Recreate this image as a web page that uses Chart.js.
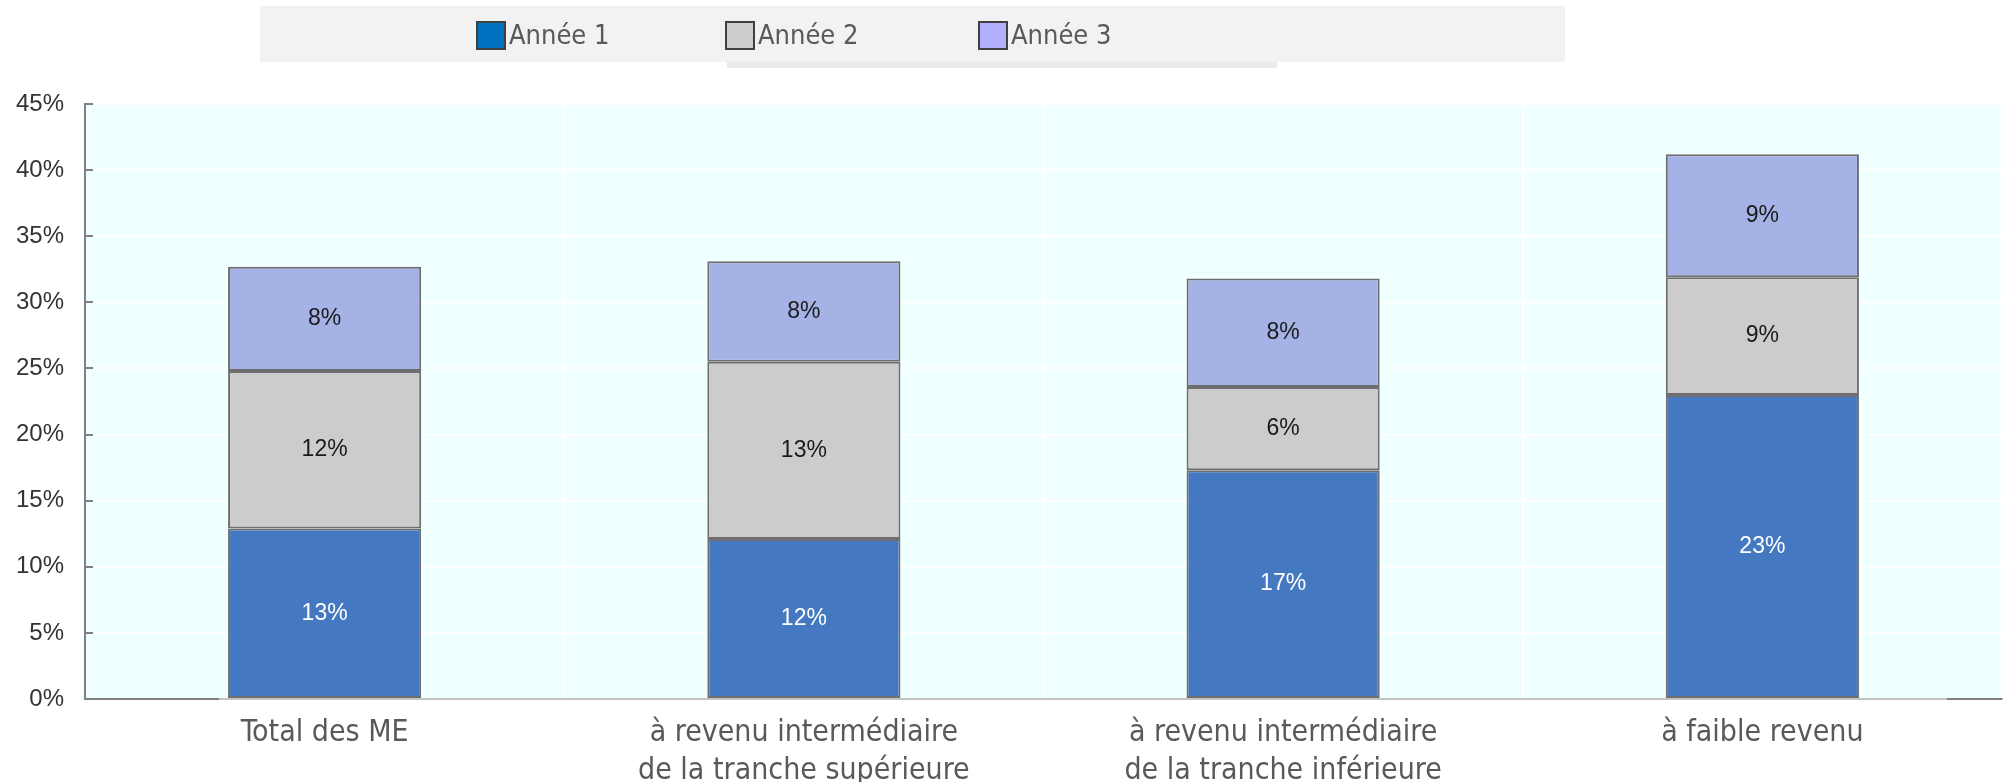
<!DOCTYPE html>
<html>
<head>
<meta charset="utf-8">
<script src="https://cdn.jsdelivr.net/npm/chart.js@4.4.1/dist/chart.umd.min.js"></script>
<style>
html,body{margin:0;padding:0;background:#fff;}
#wrap{position:relative;width:2012px;height:782px;}
</style>
</head>
<body>
<div id="wrap"><canvas id="c" width="2012" height="782"></canvas></div>
<script>
const categories = [
  ["Total des ME"],
  ["à revenu intermédiaire", "de la tranche supérieure"],
  ["à revenu intermédiaire", "de la tranche inférieure"],
  ["à faible revenu"]
];
const seriesNames = ["Année 1", "Année 2", "Année 3"];
const annee1 = [12.9, 12.1, 17.3, 23.0];
const annee2 = [11.9, 13.4, 6.3, 8.9];
const annee3 = [7.9, 7.6, 8.2, 9.3];
const yTicks = [0, 5, 10, 15, 20, 25, 30, 35, 40, 45];

const barColors = ["#4479C1", "#CCCCCC", "#A5B2E6"];
const legendColors = ["#0070C0", "#CCCCCC", "#B0B0FF"];
const labelColors = ["#FFFFFF", "#1A1A1A", "#1A1A1A"];
const seriesValues = [annee1, annee2, annee3];

const NARROW = "'Liberation Sans Narrow', 'DejaVu Sans Condensed', sans-serif";
const ARIAL = "'Liberation Sans', Arial, sans-serif";

const bgPlugin = {
  id: 'bg',
  beforeDraw(chart) {
    const {ctx, chartArea: a} = chart;
    ctx.save();
    ctx.fillStyle = '#F0FFFF';
    ctx.fillRect(a.left, a.top, a.right - a.left, a.bottom - a.top);
    ctx.restore();
  }
};

const legendPlugin = {
  id: 'customLegend',
  afterDraw(chart) {
    const ctx = chart.ctx;
    ctx.save();
    ctx.fillStyle = '#F2F2F2';
    ctx.fillRect(260, 6, 1305, 56);
    ctx.fillStyle = '#EAEAEA';
    ctx.fillRect(727, 62, 550, 6);
    const xs = [477, 726, 979];
    chart.data.datasets.forEach((ds, i) => {
      const x = xs[i];
      ctx.fillStyle = legendColors[i];
      ctx.fillRect(x, 22, 28, 27);
      ctx.strokeStyle = '#404040';
      ctx.lineWidth = 2;
      ctx.strokeRect(x, 22, 28, 27);
      ctx.fillStyle = '#595959';
      ctx.font = '27px ' + NARROW;
      ctx.textBaseline = 'middle';
      ctx.textAlign = 'left';
      ctx.fillText(ds.label, x + 32, 37);
    });
    ctx.restore();
  }
};

const valueLabelPlugin = {
  id: 'valueLabels',
  afterDatasetsDraw(chart) {
    const ctx = chart.ctx;
    ctx.save();
    ctx.font = '23px ' + ARIAL;
    ctx.textAlign = 'center';
    ctx.textBaseline = 'middle';
    chart.data.datasets.forEach((ds, i) => {
      const meta = chart.getDatasetMeta(i);
      meta.data.forEach((bar, j) => {
        const v = ds.data[j];
        const yc = (bar.y + bar.base) / 2;
        ctx.fillStyle = labelColors[i];
        ctx.fillText(Math.round(v) + '%', bar.x, yc);
      });
    });
    ctx.restore();
  }
};

const axisDecorPlugin = {
  id: 'axisDecor',
  afterDraw(chart) {
    const {ctx, chartArea: a, scales: {y}} = chart;
    ctx.save();
    ctx.strokeStyle = '#808080';
    ctx.lineWidth = 2;
    yTicks.forEach(t => {
      const py = Math.round(y.getPixelForValue(t));
      ctx.beginPath();
      ctx.moveTo(a.left, py);
      ctx.lineTo(a.left + 8, py);
      ctx.stroke();
    });
    const by = Math.round(y.getPixelForValue(0));
    ctx.beginPath();
    ctx.moveTo(a.left, by);
    ctx.lineTo(a.left + 134, by);
    ctx.moveTo(a.right - 55, by);
    ctx.lineTo(a.right, by);
    ctx.stroke();
    ctx.restore();
  }
};

new Chart(document.getElementById('c'), {
  type: 'bar',
  data: {
    labels: categories,
    datasets: seriesNames.map((n, i) => ({
      label: n,
      data: seriesValues[i],
      backgroundColor: barColors[i],
      borderColor: '#6E6E6E',
      borderWidth: 2,
      borderSkipped: false,
      categoryPercentage: 0.806,
      barPercentage: 0.5
    }))
  },
  options: {
    responsive: false,
    animation: false,
    devicePixelRatio: 1,
    layout: {padding: {top: 104, right: 10, left: 0, bottom: 0}},
    plugins: {legend: {display: false}, tooltip: {enabled: false}},
    scales: {
      x: {
        stacked: true,
        offset: true,
        grid: {display: true, color: '#FFFFFF', lineWidth: 2, drawTicks: false, offset: true},
        border: {display: true, color: '#C4C4C4', width: 2},
        ticks: {
          color: '#595959',
          font: {family: NARROW, size: 30, lineHeight: 1.27},
          padding: 15,
          maxRotation: 0,
          autoSkip: false
        },
        afterFit(s) { s.height = 83; }
      },
      y: {
        stacked: true,
        min: 0,
        max: 45,
        afterBuildTicks(s) { s.ticks = yTicks.map(v => ({value: v})); },
        grid: {color: '#FFFFFF', lineWidth: 2, drawTicks: false},
        border: {display: true, color: '#808080', width: 2},
        ticks: {
          color: '#333333',
          font: {family: ARIAL, size: 24},
          padding: 21,
          callback: v => v + '%'
        },
        afterFit(s) { s.width = 85; }
      }
    }
  },
  plugins: [bgPlugin, valueLabelPlugin, axisDecorPlugin, legendPlugin]
});
</script>
</body>
</html>
